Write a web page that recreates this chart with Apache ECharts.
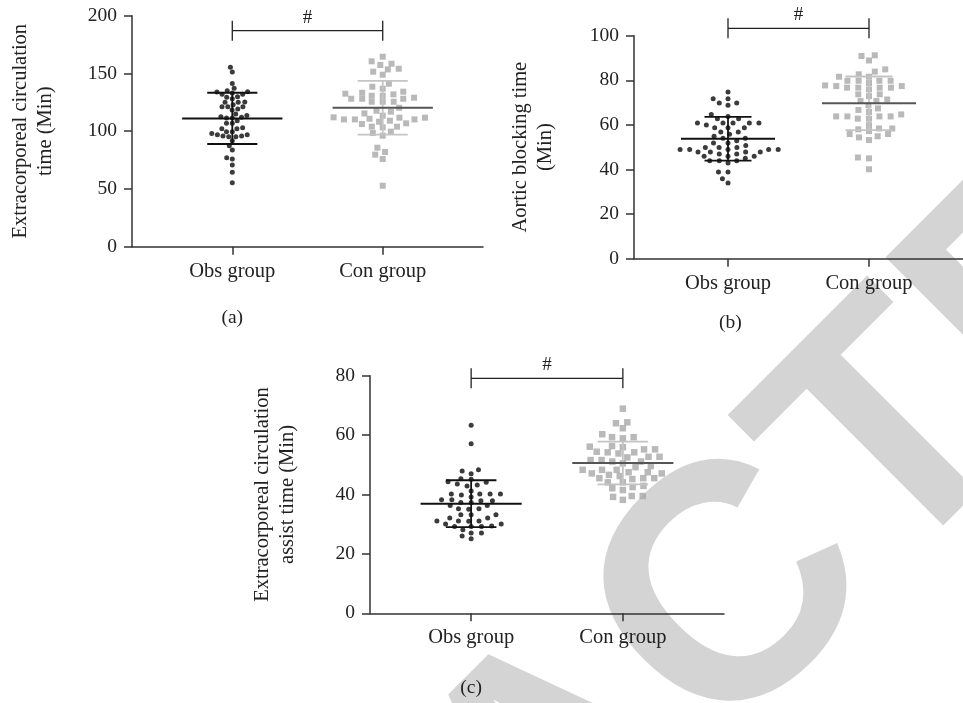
<!DOCTYPE html>
<html>
<head>
<meta charset="utf-8">
<script src="https://cdn.jsdelivr.net/npm/echarts@6/dist/echarts.min.js"></script>
<style>html,body{margin:0;padding:0;background:#fff}#c{width:963px;height:703px}</style>
</head>
<body>
<div id="c"></div>
<script>
// ---------- data ----------
const groupNames = ['Obs group', 'Con group'];
const panelLabels = ['(a)', '(b)', '(c)'];
const yNames = ['Extracorporeal circulation\ntime (Min)', 'Aortic blocking time\n(Min)', 'Extracorporeal circulation\nassist time (Min)'];
const yMax = [200, 100, 80];
const yStep = [50, 20, 20];

const aObs = [155.3,151.2,141.4,137.1,135.1,134.2,131.9,133.0,131.9,133.9,129.9,128.1,129.3,125.0,125.3,121.2,121.2,122.9,125.0,119.2,121.2,118.3,114.9,113.7,111.4,112.6,111.4,112.0,109.1,106.8,106.8,103.0,102.2,102.2,99.6,99.6,98.1,97.0,95.8,95.2,95.8,95.2,97.0,91.8,87.4,83.7,77.1,75.9,70.7,64.4,55.4];
const aCon = [164.5,160.5,158.4,157.3,154.1,153.5,151.5,148.9,141.1,138.5,134.2,133.3,136.8,132.5,130.7,128.1,125.5,128.1,125.5,125.5,131.9,129.0,130.7,128.1,116.9,120.3,115.4,117.7,110.2,110.2,108.2,110.8,112.0,111.7,113.4,111.7,109.1,110.2,106.8,103.9,99.6,103.3,103.9,106.2,96.1,98.4,85.7,82.0,79.7,75.9,52.8];
const bObs = [74.7,71.7,71.7,69.8,69.8,68.8,64.7,62.8,63.8,62.8,60.8,59.9,60.8,60.8,60.8,60.8,58.7,58.7,58.7,56.8,56.8,55.8,54.9,54.0,54.0,51.9,52.9,51.9,50.8,49.0,49.0,49.0,49.9,49.0,49.9,49.9,49.0,47.8,47.8,47.8,47.8,46.9,45.9,46.9,45.9,45.9,42.9,43.9,45.0,43.9,43.9,38.9,38.9,35.9,33.9];
const bCon = [91.2,90.9,88.9,83.9,84.9,82.7,81.6,81.6,79.8,79.8,79.8,78.8,79.8,77.4,77.4,76.7,76.7,75.9,76.7,76.7,77.7,73.7,72.9,73.7,71.4,70.7,70.7,68.8,67.4,66.7,64.7,63.8,63.8,63.8,65.8,62.8,62.8,63.8,59.9,58.0,58.4,57.2,58.4,54.4,53.2,54.9,55.9,55.9,45.4,45.0,40.1];
const cObs = [63.3,57.1,48.3,47.9,47.0,44.1,43.5,42.9,44.3,43.2,45.1,45.3,41.2,40.2,40.2,40.2,39.8,40.2,39.2,38.2,37.9,37.3,37.9,38.2,37.3,36.3,36.3,35.0,35.2,35.2,33.2,33.2,33.2,32.1,32.1,31.0,31.1,31.1,31.1,30.1,30.1,29.2,29.2,29.4,29.2,28.1,27.0,27.0,26.0,25.1];
const cCon = [68.9,64.0,64.3,62.3,60.3,59.3,58.9,59.3,55.9,55.2,56.3,56.1,54.2,54.4,55.2,52.5,52.7,52.7,53.8,51.6,51.6,51.1,51.1,50.5,49.6,49.2,48.3,48.3,47.5,47.5,47.1,46.6,45.5,46.2,45.2,45.5,44.1,44.1,42.9,42.5,41.5,42.1,39.5,39.5,39.2,38.2,54.2,47.1,45.5,48.3];

const meanObs = [111.1, 53.8, 36.9];
const sdObs   = [22.2, 9.8, 7.9];
const meanCon = [120.3, 69.7, 50.6];
const sdCon   = [23.2, 12.0, 7.2];
const sigLevel = [187, 103.3, 79.1];
const sigMark = '#';
const watermark = 'RETRACTED';

const obsSets = [aObs, bObs, cObs];
const conSets = [aCon, bCon, cCon];

// ---------- layout / style ----------
const grids = [
  {left: 132, top: 15.7, width: 351, height: 231},
  {left: 634, top: 35.7, width: 337.4, height: 223},
  {left: 370, top: 375.7, width: 354, height: 237.6}
];
const nameGaps = [74, 76, 70];
const X_MAX = 7, X_OBS = 2, X_CON = 5;
// horizontal / vertical packing radii (px) for [obs, con] in each panel
const packing = [[[5.8, 5], [11, 6]], [[9.8, 5.5], [11.5, 6]], [[10.3, 5.5], [11, 6.5]]];
const FONT = 'Liberation Serif';
const AX = '#333';

function swarm(values, center, pxPerX, pxPerY, rx, ry) {
  const order = values.map((v, i) => i).sort((a, b) => values[a] - values[b]);
  const placed = [];
  const out = new Array(values.length);
  order.forEach(i => {
    const y = values[i] * pxPerY;
    const iv = [];
    placed.forEach(p => {
      const dy = Math.abs(p.y - y);
      if (dy < ry) { const h = rx * Math.sqrt(1 - (dy / ry) * (dy / ry)); iv.push([p.x - h, p.x + h]); }
    });
    const cands = [0];
    iv.forEach(r => { cands.push(r[0], r[1]); });
    cands.sort((a, b) => Math.abs(a) - Math.abs(b) || a - b);
    let x = 0;
    for (const c of cands) {
      if (!iv.some(r => c > r[0] + 1e-6 && c < r[1] - 1e-6)) { x = c; break; }
    }
    placed.push({x, y});
    out[i] = [center + x / pxPerX, values[i]];
  });
  return out;
}

const option = {
  animation: false,
  backgroundColor: '#fff',
  grid: grids.map(g => Object.assign({containLabel: false}, g)),
  xAxis: grids.map((g, k) => ({
    type: 'value', gridIndex: k, min: 0, max: X_MAX, interval: 1,
    axisLine: {show: true, onZero: false, lineStyle: {color: AX, width: 1.5}},
    axisTick: {show: true, length: 8, customValues: [X_OBS, X_CON], lineStyle: {color: AX, width: 1.5}},
    axisLabel: {show: true, customValues: [X_OBS, X_CON], margin: 14,
      formatter: v => v === X_OBS ? groupNames[0] : (v === X_CON ? groupNames[1] : ''),
      fontFamily: FONT, fontSize: 20.5, color: '#222'},
    splitLine: {show: false}
  })),
  yAxis: grids.map((g, k) => ({
    type: 'value', gridIndex: k, min: 0, max: yMax[k], interval: yStep[k],
    name: yNames[k], nameLocation: 'middle', nameGap: nameGaps[k],
    nameTextStyle: {fontFamily: FONT, fontSize: 20.5, color: '#222', lineHeight: 25},
    axisLine: {show: true, lineStyle: {color: AX, width: 1.5}},
    axisTick: {show: true, length: 8, lineStyle: {color: AX, width: 1.5}},
    axisLabel: {margin: 15, fontFamily: FONT, fontSize: 19.5, color: '#222'},
    splitLine: {show: false}
  })),
  graphic: [
    {type: 'text', z: -10, silent: true, x: 566, y: 772, rotation: Math.PI / 4,
      style: {text: watermark, font: 'bold 335px "Liberation Sans"', fill: '#d4d4d4',
        textAlign: 'center', textVerticalAlign: 'middle'}}
  ].concat(grids.map((g, k) => ({
    type: 'text', z: 5, silent: true,
    x: g.left + g.width * X_OBS / X_MAX, y: [318, 323, 688][k],
    style: {text: panelLabels[k], font: '19.5px "' + FONT + '"', fill: '#222', textAlign: 'center', textVerticalAlign: 'middle'}
  }))),
  series: []
};

grids.forEach((g, k) => {
  const pxPerX = g.width / X_MAX, pxPerY = g.height / yMax[k];
  option.series.push({
    type: 'scatter', xAxisIndex: k, yAxisIndex: k, symbol: 'circle', symbolSize: 5,
    itemStyle: {color: '#0a0a0a'}, z: 3,
    data: swarm(obsSets[k], X_OBS, pxPerX, pxPerY, packing[k][0][0], packing[k][0][1])
  });
  option.series.push({
    type: 'scatter', xAxisIndex: k, yAxisIndex: k, symbol: 'rect', symbolSize: k === 2 ? 6.5 : 6,
    itemStyle: {color: '#a8a8a8'}, z: 3,
    data: swarm(conSets[k], X_CON, pxPerX, pxPerY, packing[k][1][0], packing[k][1][1])
  });
  option.series.push({
    type: 'custom', xAxisIndex: k, yAxisIndex: k, z: 4, clip: false,
    data: [[X_OBS, meanObs[k], sdObs[k], 0], [X_CON, meanCon[k], sdCon[k], 1]],
    renderItem: (params, api) => {
      const x = api.value(0), m = api.value(1), s = api.value(2), grp = api.value(3);
      const meanC = grp === 0 ? '#111' : '#555';
      const sdC = grp === 0 ? '#111' : '#c4c4c4';
      const p = (a, b) => api.coord([a, b]);
      const ln = (a, b, c, w) => ({type: 'line', shape: {x1: a[0], y1: a[1], x2: b[0], y2: b[1]}, style: {stroke: c, lineWidth: w}});
      return {type: 'group', children: [
        ln(p(x, m - s), p(x, m + s), sdC, 1.8),
        ln(p(x - 0.5, m + s), p(x + 0.5, m + s), sdC, 1.8),
        ln(p(x - 0.5, m - s), p(x + 0.5, m - s), sdC, 1.8),
        ln(p(x - 1, m), p(x + 1, m), meanC, 2)
      ]};
    }
  });
  option.series.push({
    type: 'custom', xAxisIndex: k, yAxisIndex: k, z: 4, clip: false,
    data: [[X_OBS, X_CON, sigLevel[k]]],
    renderItem: (params, api) => {
      const a = api.coord([api.value(0), api.value(2)]);
      const b = api.coord([api.value(1), api.value(2)]);
      const st = {stroke: '#222', lineWidth: 1.3};
      return {type: 'group', children: [
        {type: 'line', shape: {x1: a[0], y1: a[1], x2: b[0], y2: b[1]}, style: st},
        {type: 'line', shape: {x1: a[0], y1: a[1] - 10, x2: a[0], y2: a[1] + 10}, style: st},
        {type: 'line', shape: {x1: b[0], y1: b[1] - 10, x2: b[0], y2: b[1] + 10}, style: st},
        {type: 'text', x: (a[0] + b[0]) / 2, y: a[1] - 13,
          style: {text: sigMark, font: '19px "' + FONT + '"', fill: '#222', textAlign: 'center', textVerticalAlign: 'middle'}}
      ]};
    }
  });
});

const chart = echarts.init(document.getElementById('c'), null, {renderer: 'canvas'});
chart.setOption(option);
</script>
</body>
</html>
